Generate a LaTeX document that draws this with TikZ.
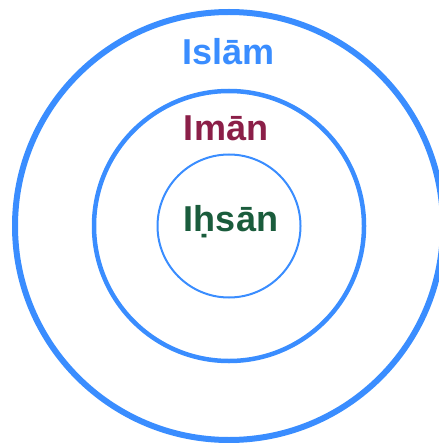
\documentclass[tikz,border=0pt]{standalone}
\usepackage{fontspec}
\setmainfont{Liberation Sans}
\usepackage{tikz}
\usetikzlibrary{positioning}
\definecolor{ringblue}{HTML}{3A8DFF}
\definecolor{imanred}{HTML}{8B1F48}
\definecolor{ihsangreen}{HTML}{1A5C3C}

\begin{document}
\begin{tikzpicture}[x=1pt, y=-1pt,
  ring/.style={circle, draw=ringblue, inner sep=0pt},
  label/.style={anchor=base, inner sep=0pt, font=\fontsize{36}{40}\selectfont\bfseries}]

\useasboundingbox (0,0) rectangle (438,443);

% Three concentric rings
\node[ring, line width=6pt, minimum size=428pt] (islam) at (229,226) {};
\node[ring, line width=4.5pt, minimum size=270pt] (iman) at (229,226) {};
\node[ring, line width=2pt, minimum size=143pt] (ihsan) at (229,226) {};

% Ring names
\node[label, text=ringblue] (islamname) at (228.5,65) {Islām};
\node[label, text=imanred] (imanname) at (226,141) {Imān};
\node[label, text=ihsangreen] (ihsanname) at (231,231) {Iḥsān};

\end{tikzpicture}
\end{document}
